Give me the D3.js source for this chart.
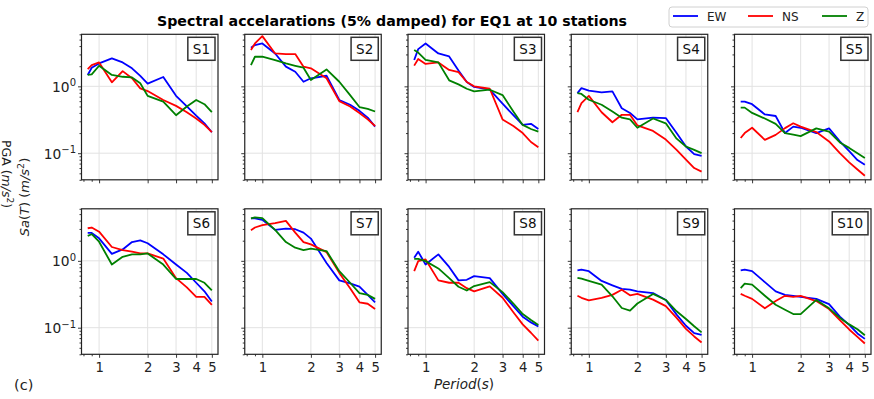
<!DOCTYPE html>
<html>
<head>
<meta charset="utf-8">
<script src="https://cdn.jsdelivr.net/npm/d3@7"></script>
<style>
  body { margin: 0; background: #fff; }
  text { font-family: "DejaVu Sans", sans-serif; }
</style>
</head>
<body>
<script>
// periods (s) shared by every station
const periods = [0.85, 0.9, 1.0, 1.2, 1.4, 1.6, 1.8, 2.0, 2.5, 3.0, 3.5, 4.0, 4.5, 5.0];
const stations = ['S1', 'S2', 'S3', 'S4', 'S5', 'S6', 'S7', 'S8', 'S9', 'S10'];

// Sa(T) in m/s^2, one row per station
const ew = [
  [1.48, 1.9, 2.2, 2.62, 2.28, 1.86, 1.43, 1.1, 1.38, 0.72, 0.5, 0.365, 0.28, 0.206],
  [3.78, 4.14, 4.38, 3.1, 1.97, 1.65, 1.17, 1.32, 1.44, 0.625, 0.53, 0.43, 0.34, 0.25],
  [2.48, 3.6, 4.37, 3.1, 2.8, 1.72, 1.16, 0.98, 0.89, 0.55, 0.37, 0.265, 0.275, 0.23],
  [0.79, 0.94, 0.86, 0.81, 0.84, 0.47, 0.4, 0.32, 0.34, 0.335, 0.2, 0.126, 0.097, 0.091],
  [0.59, 0.59, 0.54, 0.38, 0.36, 0.2, 0.25, 0.24, 0.2, 0.235, 0.15, 0.107, 0.079, 0.067],
  [2.61, 2.61, 2.17, 1.27, 1.48, 1.91, 2.02, 1.83, 1.25, 0.88, 0.66, 0.47, 0.35, 0.247],
  [4.3, 4.3, 4.1, 2.9, 3.04, 2.97, 2.64, 2.15, 0.93, 0.51, 0.46, 0.41, 0.31, 0.24],
  [1.11, 1.37, 0.88, 1.25, 0.81, 0.51, 0.52, 0.59, 0.55, 0.32, 0.21, 0.146, 0.12, 0.104],
  [0.72, 0.74, 0.7, 0.5, 0.43, 0.38, 0.37, 0.35, 0.33, 0.26, 0.157, 0.107, 0.083, 0.078],
  [0.72, 0.74, 0.7, 0.48, 0.35, 0.31, 0.3, 0.29, 0.27, 0.225, 0.146, 0.11, 0.082, 0.068]
];
const ns = [
  [1.81, 2.08, 2.28, 1.15, 1.69, 1.32, 0.93, 0.85, 0.625, 0.51, 0.41, 0.33, 0.265, 0.206],
  [3.49, 4.38, 5.64, 3.1, 3.04, 3.04, 1.97, 1.86, 1.32, 0.6, 0.5, 0.4, 0.32, 0.255],
  [2.04, 2.56, 2.16, 2.28, 1.76, 1.63, 1.16, 1.0, 0.92, 0.32, 0.255, 0.2, 0.147, 0.123],
  [0.41, 0.56, 0.72, 0.41, 0.29, 0.375, 0.375, 0.26, 0.215, 0.16, 0.112, 0.08, 0.06, 0.053],
  [0.169, 0.2, 0.24, 0.158, 0.188, 0.237, 0.28, 0.25, 0.207, 0.15, 0.1, 0.073, 0.057, 0.046],
  [3.07, 3.15, 2.73, 1.61, 1.45, 1.37, 1.29, 1.29, 1.08, 0.55, 0.4, 0.29, 0.29, 0.22],
  [2.87, 3.15, 3.41, 3.66, 3.96, 2.64, 1.91, 1.76, 1.35, 0.66, 0.39, 0.24, 0.228, 0.19],
  [0.7, 0.99, 1.05, 0.51, 0.47, 0.47, 0.39, 0.35, 0.415, 0.28, 0.17, 0.112, 0.084, 0.064],
  [0.3, 0.28, 0.257, 0.28, 0.31, 0.37, 0.305, 0.32, 0.263, 0.21, 0.14, 0.096, 0.074, 0.06],
  [0.32, 0.3, 0.27, 0.195, 0.25, 0.3, 0.29, 0.3, 0.25, 0.19, 0.13, 0.094, 0.073, 0.058]
];
const z = [
  [1.48, 1.51, 2.03, 1.48, 1.39, 1.36, 1.11, 0.72, 0.59, 0.37, 0.5, 0.625, 0.54, 0.41],
  [2.08, 2.77, 2.77, 2.47, 2.2, 2.03, 1.9, 1.24, 1.79, 1.17, 0.74, 0.49, 0.46, 0.42],
  [3.5, 3.2, 2.48, 2.28, 1.23, 1.07, 0.92, 0.84, 0.89, 0.74, 0.42, 0.265, 0.23, 0.21],
  [0.79, 0.77, 0.63, 0.53, 0.42, 0.34, 0.32, 0.24, 0.33, 0.28, 0.165, 0.126, 0.112, 0.1],
  [0.48, 0.48, 0.4, 0.33, 0.275, 0.2, 0.19, 0.18, 0.235, 0.21, 0.145, 0.12, 0.1, 0.085],
  [2.36, 2.5, 1.93, 0.88, 1.15, 1.25, 1.25, 1.29, 0.88, 0.535, 0.535, 0.535, 0.47, 0.36],
  [4.3, 4.45, 4.35, 2.9, 1.91, 1.57, 1.45, 1.52, 1.4, 0.7, 0.47, 0.33, 0.31, 0.27],
  [1.07, 1.07, 0.99, 0.77, 0.55, 0.41, 0.36, 0.42, 0.48, 0.34, 0.23, 0.16, 0.13, 0.11],
  [0.556, 0.54, 0.5, 0.44, 0.295, 0.197, 0.18, 0.23, 0.32, 0.26, 0.176, 0.135, 0.105, 0.085],
  [0.39, 0.455, 0.44, 0.3, 0.22, 0.185, 0.16, 0.16, 0.26, 0.195, 0.14, 0.112, 0.095, 0.077]
];

const components = ['EW', 'NS', 'Z'];
const colors = ['#0000ff', '#ff0000', '#008000'];

// ticks
const xTicks = [1, 2, 3, 4, 5];
const xMinor = [0.8, 0.9];
const yTicks = [0.1, 1];
const yTickLabels = [['10', '\u22121'], ['10', '0']];
const yMinor = [0.04, 0.05, 0.06, 0.07, 0.08, 0.09, 0.2, 0.3, 0.4, 0.5, 0.6, 0.7, 0.8, 0.9, 2, 3, 4, 5, 6];

// layout
const pw = 136.5, ph = 145.5;
const lefts = [81.5, 244.75, 408, 571.25, 734.5];
const tops = [34.3, 208.8];

const svg = d3.select('body')
    .append('svg')
    .attr('width', 874)
    .attr('height', 399);

// scales shared by all panels
const x = d3.scaleLog().domain([0.778, 5.46]).range([0, pw]);
const y = d3.scaleLog().domain([0.04, 6]).range([ph, 0]);

const line = d3.line()
    .x((d, j) => x(periods[j]))
    .y(d => y(d));

svg.append('defs').append('clipPath').attr('id', 'clip')
    .append('rect').attr('width', pw).attr('height', ph);

stations.forEach((name, i) => {
    const col = i % 5, row = Math.floor(i / 5);
    const g = svg.append('g')
        .attr('transform', `translate(${lefts[col]},${tops[row]})`);

    // grid
    g.append('g').selectAll('line').data(xTicks).join('line')
        .attr('x1', d => x(d)).attr('x2', d => x(d))
        .attr('y1', 0).attr('y2', ph)
        .attr('stroke', '#e2e2e2').attr('stroke-width', 1);
    g.append('g').selectAll('line').data(yTicks).join('line')
        .attr('x1', 0).attr('x2', pw)
        .attr('y1', d => y(d)).attr('y2', d => y(d))
        .attr('stroke', '#e2e2e2').attr('stroke-width', 1);

    // the three components
    const series = [ew[i], ns[i], z[i]];
    g.append('g').attr('clip-path', 'url(#clip)')
        .selectAll('path').data(series).join('path')
        .attr('fill', 'none')
        .attr('stroke', (d, k) => colors[k])
        .attr('stroke-width', 1.8)
        .attr('stroke-linejoin', 'round')
        .attr('d', line);

    // axes ticks
    const yAx = g.append('g')
        .call(d3.axisLeft(y).tickValues(yTicks).tickSize(3.5).tickFormat(''));
    g.append('g')
        .call(d3.axisLeft(y).tickValues(yMinor).tickSize(2).tickFormat(''));
    const xAx = g.append('g').attr('transform', `translate(0,${ph})`)
        .call(d3.axisBottom(x).tickValues(xTicks).tickSize(3.5).tickPadding(5)
            .tickFormat(row === 1 ? d3.format('d') : ''));
    g.append('g').attr('transform', `translate(0,${ph})`)
        .call(d3.axisBottom(x).tickValues(xMinor).tickSize(2).tickFormat(''));
    g.selectAll('.domain').remove();
    g.selectAll('.tick line').attr('stroke', '#222').attr('stroke-width', 0.9);
    xAx.selectAll('text')
        .attr('font-size', 13.2).attr('fill', '#222')
        .attr('font-family', 'DejaVu Sans');

    if (col === 0) {
        yAx.selectAll('.tick').append('text')
            .attr('x', -5.5).attr('dy', '0.35em')
            .attr('text-anchor', 'end')
            .attr('fill', '#222')
            .attr('font-size', 13.8)
            .each(function (d) {
                const lab = yTickLabels[yTicks.indexOf(d)];
                const t = d3.select(this);
                t.append('tspan').text(lab[0]);
                t.append('tspan').attr('dy', -5.5).attr('font-size', 10).text(lab[1]);
            });
    }

    // frame
    g.append('rect')
        .attr('width', pw).attr('height', ph)
        .attr('fill', 'none').attr('stroke', '#222').attr('stroke-width', 1.2);

    // station label box
    const lab = g.append('g');
    const txt = lab.append('text')
        .attr('font-size', 13.5).attr('fill', '#111')
        .attr('text-anchor', 'end')
        .text(name);
    const tw = txt.node().getComputedTextLength();
    const bw = tw + 10, bh = 23;
    lab.insert('rect', 'text')
        .attr('x', pw - 3 - bw).attr('y', 3)
        .attr('width', bw).attr('height', bh)
        .attr('fill', '#fff').attr('stroke', '#333').attr('stroke-width', 1.5);
    txt.attr('x', pw - 3 - 5).attr('y', 3 + 16.5);
});

// title
svg.append('text')
    .attr('x', 392).attr('y', 26)
    .attr('text-anchor', 'middle')
    .attr('font-size', 14.2).attr('font-weight', 'bold')
    .text('Spectral accelarations (5% damped) for EQ1 at 10 stations');

// legend
const leg = svg.append('g').attr('transform', 'translate(669,7)');
leg.append('rect')
    .attr('width', 199).attr('height', 20).attr('rx', 3)
    .attr('fill', '#fff').attr('stroke', '#d0d0d0');
const legX = [4, 79, 153];
components.forEach((c, k) => {
    leg.append('line')
        .attr('x1', legX[k]).attr('x2', legX[k] + 25)
        .attr('y1', 9).attr('y2', 9)
        .attr('stroke', colors[k]).attr('stroke-width', 1.8);
    leg.append('text')
        .attr('x', legX[k] + 34).attr('y', 13.5)
        .attr('font-size', 12).attr('fill', '#222')
        .text(c);
});

// axis labels
const yl = svg.append('text')
    .attr('transform', 'translate(29,197) rotate(-90)')
    .attr('text-anchor', 'middle')
    .attr('font-size', 13).attr('fill', '#222');
yl.append('tspan').attr('font-style', 'italic').text('Sa');
yl.append('tspan').text('(');
yl.append('tspan').attr('font-style', 'italic').text('T');
yl.append('tspan').text(') (');
yl.append('tspan').attr('font-style', 'italic').text('m/s');
yl.append('tspan').attr('dy', -5).attr('font-size', 9.5).text('2');
yl.append('tspan').attr('dy', 5).text(')');

const pga = svg.append('text')
    .attr('transform', 'translate(2,174) rotate(90)')
    .attr('text-anchor', 'middle')
    .attr('font-size', 12.5).attr('fill', '#222');
pga.append('tspan').text('PGA (');
pga.append('tspan').attr('font-style', 'italic').text('m/s');
pga.append('tspan').attr('dy', -5).attr('font-size', 9).text('2');
pga.append('tspan').attr('dy', 5).text(')');

const xl = svg.append('text')
    .attr('x', 464).attr('y', 389)
    .attr('text-anchor', 'middle')
    .attr('font-size', 13.5).attr('fill', '#222');
xl.append('tspan').attr('font-style', 'italic').text('Period');
xl.append('tspan').text('(');
xl.append('tspan').attr('font-style', 'italic').text('s');
xl.append('tspan').text(')');

svg.append('text')
    .attr('x', 14).attr('y', 390)
    .attr('font-size', 14.5).attr('fill', '#222')
    .text('(c)');
</script>
</body>
</html>
